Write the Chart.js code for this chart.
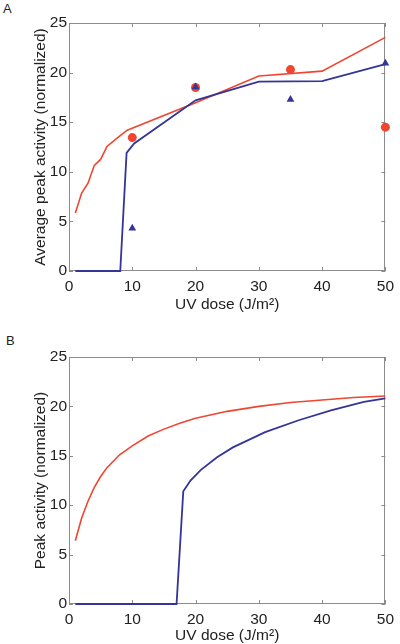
<!DOCTYPE html>
<html><head><meta charset="utf-8">
<script src="https://cdn.jsdelivr.net/npm/chart.js@4/dist/chart.umd.min.js"></script>
<style>
body{margin:0;background:#fff;width:400px;height:644px;position:relative;overflow:hidden;font-family:"Liberation Sans",Arial,sans-serif}
.wrap{position:absolute;left:0;width:400px;height:322px}
.lbl{position:absolute;font-size:13px;color:#222;line-height:13px}
</style></head><body>
<div class="lbl" style="left:3px;top:2px">A</div>
<div class="lbl" style="left:6px;top:334px">B</div>
<div class="wrap" style="top:0"><canvas id="ca" width="400" height="322"></canvas></div>
<div class="wrap" style="top:322px"><canvas id="cb" width="400" height="322"></canvas></div>
<script>
// ---- data ----
const xTicks = [0, 10, 20, 30, 40, 50];
const yTicks = [0, 5, 10, 15, 20, 25];
const xTitle = 'UV dose (J/m\u00B2)';
const yTitleA = 'Average peak activity (normalized)';
const yTitleB = 'Peak activity (normalized)';

// Panel A: model lines
const aRedX = [1, 2, 3, 4, 5, 6, 7.6, 9.2, 20, 30, 40, 50];
const aRedY = [5.85, 7.85, 8.85, 10.65, 11.25, 12.55, 13.4, 14.2, 16.95, 19.65, 20.15, 23.55];
const aBlueX = [1, 8.1, 9.1, 10.3, 20, 30, 40, 50];
const aBlueY = [0, 0, 11.9, 12.85, 17.2, 19.1, 19.15, 20.85];
// Panel A: measured points
const aDotX = [10, 20, 35, 50];
const aDotY = [13.45, 18.5, 20.3, 14.5];
const aTriX = [10, 20, 35, 50];
const aTriY = [4.3, 18.55, 17.3, 20.95];

// Panel B: model curves
const bRedX = [1, 2, 3, 4, 5, 6, 8, 10, 12.5, 15, 17.5, 20, 25, 30, 35, 40, 45, 50];
const bRedY = [6.4, 8.7, 10.4, 11.8, 12.9, 13.8, 15.1, 16.0, 17.0, 17.7, 18.3, 18.8, 19.5, 20.0, 20.4, 20.65, 20.9, 21.05];
const bBlueX = [1, 17, 18.06, 19.2, 20.8, 23.4, 25.9, 31, 36.3, 41.4, 46.6, 50];
const bBlueY = [0, 0, 11.4, 12.5, 13.55, 14.85, 15.85, 17.4, 18.6, 19.6, 20.45, 20.82];

const RED = '#f04530';
const BLUE = '#343499';
const AXIS = '#8c8c8c';
const FONT = '"Liberation Sans", Arial, sans-serif';
const TICK_SIZE = 15.5;
const TITLE_SIZE = 15.5;

function pts(xs, ys) { return xs.map((x, i) => ({x: x, y: ys[i]})); }

const boxPlugin = {
  id: 'box',
  beforeDatasetsDraw(chart) {
    const {ctx, chartArea: a, scales: {x, y}} = chart;
    ctx.save();
    ctx.strokeStyle = AXIS;
    ctx.lineWidth = 1;
    ctx.strokeRect(Math.round(a.left) + 0.5, Math.round(a.top) + 0.5,
      Math.round(a.right - a.left) - 1, Math.round(a.bottom - a.top) - 1);
    ctx.beginPath();
    xTicks.forEach(v => {
      const px = Math.round(x.getPixelForValue(v)) + 0.5;
      ctx.moveTo(px, a.bottom); ctx.lineTo(px, a.bottom - 4);
      ctx.moveTo(px, a.top); ctx.lineTo(px, a.top + 4);
    });
    yTicks.forEach(v => {
      const py = Math.round(y.getPixelForValue(v)) + 0.5;
      ctx.moveTo(a.left, py); ctx.lineTo(a.left + 4, py);
      ctx.moveTo(a.right, py); ctx.lineTo(a.right - 4, py);
    });
    ctx.stroke();
    ctx.restore();
  }
};

function makeChart(id, datasets, yTitle, pad, xTitlePad) {
  return new Chart(document.getElementById(id), {
    type: 'scatter',
    data: {datasets: datasets},
    options: {
      responsive: false,
      animation: false,
      events: [],
      layout: {padding: {top: pad.top, right: 8, left: 0, bottom: 0}},
      plugins: {legend: {display: false}, tooltip: {enabled: false}},
      scales: {
        x: {
          type: 'linear', min: 0, max: 50,
          afterBuildTicks: s => { s.ticks = xTicks.map(v => ({value: v})); },
          afterFit: s => { s.height = pad.xh; },
          grid: {display: false, drawTicks: false},
          border: {display: false},
          ticks: {padding: 6, color: '#222', font: {family: FONT, size: TICK_SIZE}, maxRotation: 0},
          title: {display: true, text: xTitle, color: '#222', font: {family: FONT, size: TITLE_SIZE}, padding: {top: 0, bottom: xTitlePad}}
        },
        y: {
          type: 'linear', min: 0, max: 25,
          afterBuildTicks: s => { s.ticks = yTicks.map(v => ({value: v})); },
          afterFit: s => { s.width = 69; },
          grid: {display: false, drawTicks: false},
          border: {display: false},
          ticks: {padding: 2, color: '#222', font: {family: FONT, size: TICK_SIZE}},
          title: {display: true, text: yTitle, color: '#222', font: {family: FONT, size: TITLE_SIZE}, padding: {top: 31, bottom: 0}}
        }
      }
    },
    plugins: [boxPlugin]
  });
}

function line(xs, ys, color, w, order) {
  return {type: 'line', data: pts(xs, ys), borderColor: color, borderWidth: w, pointRadius: 0, fill: false, tension: 0, clip: false, order: order};
}

makeChart('ca', [
  line(aRedX, aRedY, RED, 1.6, 3),
  line(aBlueX, aBlueY, BLUE, 1.8, 2),
  {data: pts(aDotX, aDotY), pointStyle: 'circle', pointRadius: 4.5, backgroundColor: RED, borderColor: RED, borderWidth: 0, clip: false, order: 1},
  {data: pts(aTriX, aTriY), pointStyle: 'triangle', pointRadius: 4.5, backgroundColor: BLUE, borderColor: BLUE, borderWidth: 0, clip: false, order: 0}
], yTitleA, {top: 23, xh: 51}, 8);

makeChart('cb', [
  line(bRedX, bRedY, RED, 1.6, 1),
  line(bBlueX, bBlueY, BLUE, 1.8, 0)
], yTitleB, {top: 35, xh: 40}, -1);
</script>
</body></html>
